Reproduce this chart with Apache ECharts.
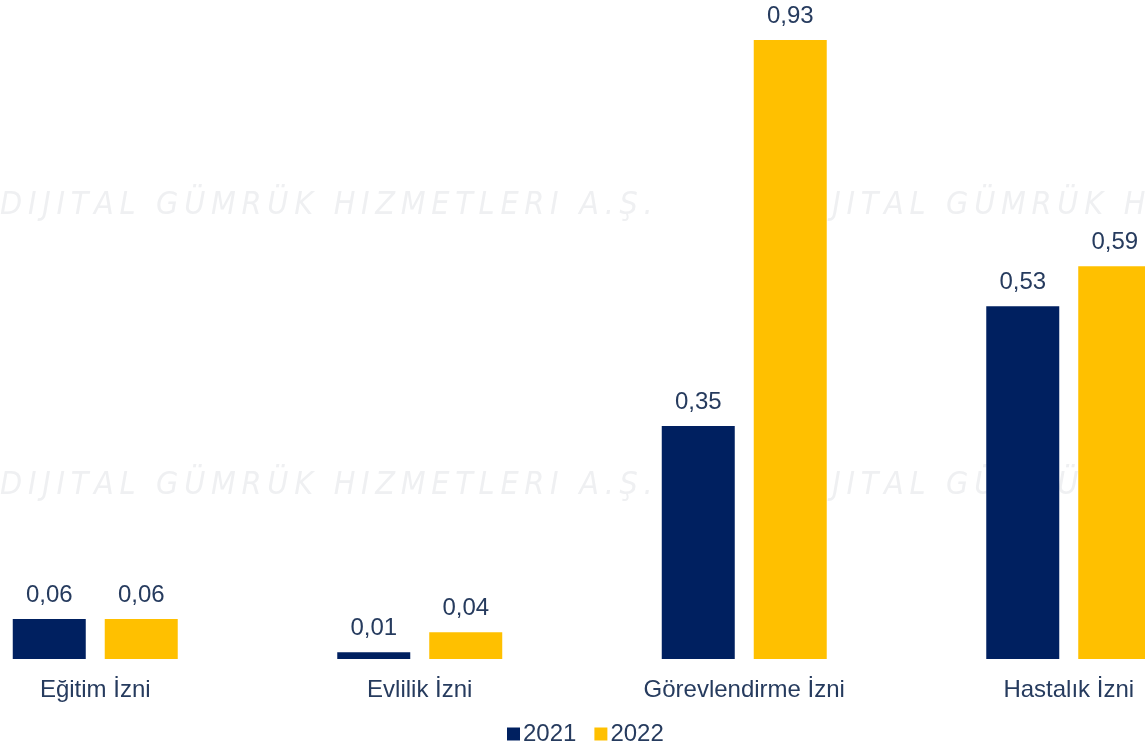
<!DOCTYPE html>
<html><head><meta charset="utf-8">
<script src="https://cdn.jsdelivr.net/npm/echarts@6/dist/echarts.min.js"></script>
<style>html,body{margin:0;padding:0;background:#fff;overflow:hidden;width:1145px;height:751px;position:relative}#c{position:absolute;left:-67px;top:0;width:1298px;height:751px}</style>
</head><body><div id="c"></div>
<script>
const categories = ['Eğitim İzni', 'Evlilik İzni', 'Görevlendirme İzni', 'Hastalık İzni'];
const series2021 = [0.06, 0.01, 0.35, 0.53];
const series2022 = [0.06, 0.04, 0.93, 0.59];
const seriesNames = ['2021', '2022'];

const fmt = v => v.value.toFixed(2).replace('.', ',');
const txt = '#263b5e';
const FF = 'Liberation Sans';
const chart = echarts.init(document.getElementById('c'));
const wmText = 'DIJITAL GÜMRÜK HIZMETLERI A.Ş.'.split('').join('\u2009');
const wm = (x, y) => ({type:'text', left:x + 67, top:y, z:-1, style:{text:wmText, fill:'#eff0f2', font:'italic 32px "DejaVu Sans Condensed", sans-serif'}});
chart.setOption({
  animation:false,
  graphic:[wm(0,190), wm(0,470), wm(790,190), wm(790,470)],
  grid:{left:0, right:0, top:0, bottom:92, containLabel:false},
  legend:{bottom:0, left:569, itemWidth:13, itemHeight:13, itemGap:18, icon:'rect',
    textStyle:{fontSize:24, color:txt, fontFamily:FF, padding:[0,0,0,-2]}, data:seriesNames},
  xAxis:{type:'category', data:categories, axisLine:{show:false}, axisTick:{show:false},
    axisLabel:{fontSize:24, color:txt, margin:19, fontFamily:FF}},
  yAxis:{type:'value', min:0, max:0.99, show:false, splitLine:{show:false}},
  series:[
    {name:seriesNames[0], type:'bar', data:series2021, barWidth:73, barGap:'26%', itemStyle:{color:'#002060'},
     label:{show:true, position:'top', distance:12, formatter:fmt, fontSize:24, color:txt, fontFamily:FF}},
    {name:seriesNames[1], type:'bar', data:series2022, barWidth:73, itemStyle:{color:'#FFC000'},
     label:{show:true, position:'top', distance:12, formatter:fmt, fontSize:24, color:txt, fontFamily:FF}}
  ]
});
</script></body></html>
